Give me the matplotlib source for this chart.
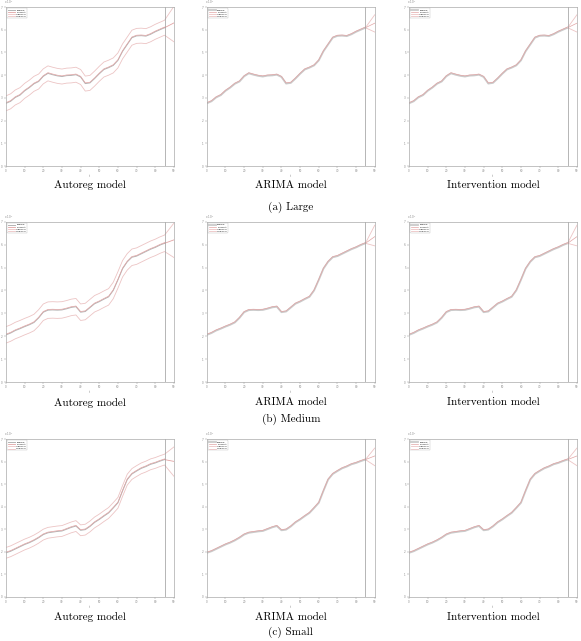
import numpy as np
import matplotlib
matplotlib.use("Agg")
import matplotlib.pyplot as plt

# sample grid (tick units) and forecast horizon
t = np.arange(0, 8.51, 0.25)
t_fc = [8.5, 9.0]

large = [2.76, 2.85, 3.02, 3.12, 3.31, 3.45, 3.62, 3.72, 3.95, 4.08, 4.02, 3.97,
         3.94, 3.98, 3.99, 4.02, 3.92, 3.63, 3.66, 3.85, 4.06, 4.25, 4.33, 4.43,
         4.65, 5.05, 5.35, 5.65, 5.73, 5.74, 5.72, 5.80, 5.91, 6.00, 6.09]
medium = [2.06, 2.14, 2.25, 2.33, 2.42, 2.50, 2.60, 2.80, 3.05, 3.14, 3.15, 3.14,
          3.15, 3.20, 3.26, 3.29, 3.05, 3.08, 3.25, 3.42, 3.51, 3.62, 3.72, 4.00,
          4.46, 4.95, 5.25, 5.45, 5.50, 5.60, 5.70, 5.80, 5.88, 5.98, 6.06]
small = [1.95, 2.02, 2.12, 2.22, 2.32, 2.40, 2.50, 2.62, 2.76, 2.84, 2.87, 2.90,
         2.92, 3.00, 3.08, 3.14, 2.95, 2.98, 3.12, 3.30, 3.43, 3.58, 3.72, 3.94,
         4.17, 4.70, 5.20, 5.45, 5.58, 5.70, 5.78, 5.88, 5.94, 6.02, 6.09]

# autoreg band half-width over the sample, and band ends at the horizon
ar_halfwidth = [0.33, 0.36, 0.24]
ar_fc_mid = [6.30, 6.21, 6.01]
ar_fc_up = [7.03, 6.94, 6.65]
ar_fc_lo = [5.47, 5.44, 5.35]

# arima / intervention forecast fan at the horizon
fan_mid = [6.29, 6.35, 6.25]
fan_up = [6.66, 6.85, 6.60]
fan_lo = [5.90, 5.95, 5.82]

series = [large, medium, small]
row_names = ["(a) Large", "(b) Medium", "(c) Small"]
models = ["Autoreg model", "ARIMA model", "Intervention model"]
xticklabels = [str(v) for v in range(0, 100, 10)]
yticklabels = [str(v) for v in range(8)]
legend_names = ["Sample", "Forecast", "Upper CI", "Lower CI"]

C_DATA = "#b4b4b4"
C_FIT = "#e2a4a4"
C_BAND = "#ecc4c4"

fig = plt.figure(figsize=(5.81, 6.41), dpi=100)

col_x = [0.0103, 0.356, 0.704]
col_w = 0.289
row_y = [0.741, 0.404, 0.069]
row_h = [0.248, 0.250, 0.246]
cap_y = [(0.711, 0.677), (0.372, 0.346), (0.037, 0.013)]

for r in range(3):
    y = np.array(series[r])
    for c in range(3):
        ax = fig.add_axes([col_x[c], row_y[r], col_w, row_h[r]])
        if c == 0:
            w = ar_halfwidth[r]
            ax.plot(t, y, color=C_DATA, lw=0.7, label=legend_names[0])
            ax.plot(t_fc, [y[-1], ar_fc_mid[r]], color=C_FIT, lw=0.6,
                    label=legend_names[1])
            ax.plot(t, y + 0.03, color=C_FIT, lw=0.5)
            ax.plot(list(t) + [9.0], list(y + w) + [ar_fc_up[r]],
                    color=C_BAND, lw=0.6, label=legend_names[2])
            ax.plot(list(t) + [9.0], list(y - w) + [ar_fc_lo[r]],
                    color=C_BAND, lw=0.6, label=legend_names[3])
        else:
            ax.plot(t, y, color=C_DATA, lw=1.3, alpha=0.7, label=legend_names[0])
            ax.plot(t, y + 0.03, color=C_FIT, lw=0.5, label=legend_names[1])
            ax.plot(t_fc, [y[-1], fan_mid[r]], color=C_FIT, lw=0.5)
            ax.plot(t_fc, [y[-1], fan_up[r]], color=C_BAND, lw=0.6, label=legend_names[2])
            ax.plot(t_fc, [y[-1], fan_lo[r]], color=C_BAND, lw=0.6, label=legend_names[3])
        ax.axvline(8.5, color="#999999", lw=0.5)
        ax.set_xlim(0, 9)
        ax.set_ylim(0, 7)
        ax.set_xticks(range(10))
        ax.set_xticklabels(xticklabels)
        ax.set_yticks(range(8))
        ax.set_yticklabels(yticklabels)
        ax.tick_params(labelsize=2, length=1.2, width=0.3, pad=1, colors="#888888")
        for s in ax.spines.values():
            s.set_color("#aaaaaa")
            s.set_linewidth(0.5)
        ax.set_xlabel("t", fontsize=2, labelpad=1, color="#888888")
        ax.text(-0.01, 1.005, "x 10$^4$", transform=ax.transAxes, fontsize=2,
                color="#888888", ha="left", va="bottom")
        leg = ax.legend(loc="upper left", fontsize=1.6, frameon=True,
                        borderpad=0.4, handlelength=3, labelspacing=0.3)
        leg.get_frame().set_linewidth(0.3)
        leg.get_frame().set_edgecolor("#aaaaaa")
        fig.text(col_x[c] + col_w / 2, cap_y[r][0], models[c], ha="center",
                 va="center", fontsize=8, family="cmr10")
    fig.text(col_x[1] + col_w / 2, cap_y[r][1], row_names[r], ha="center",
             va="center", fontsize=8, family="cmr10")

fig.savefig("out.png", dpi=100)
